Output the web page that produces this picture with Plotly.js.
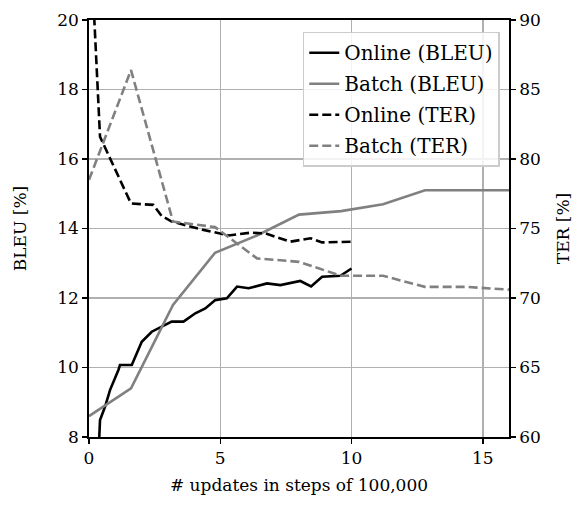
<!DOCTYPE html>
<html>
<head>
<meta charset="utf-8">
<script src="https://cdn.plot.ly/plotly-3.0.1.min.js"></script>
<style>html,body{margin:0;padding:0;background:#fff;}#chart{width:579px;height:505px;}</style>
</head>
<body>
<div id="chart"></div>
<script>
const onlineBleuX = [0.38, 0.42, 0.61, 0.8, 1.12, 1.18, 1.63, 2.01, 2.39, 2.77, 3.15, 3.6, 4.05, 4.43, 4.81, 5.25, 5.64, 6.08, 6.78, 7.29, 8.05, 8.46, 8.88, 9.58, 10.0];
const onlineBleu  = [7.8, 8.49, 8.87, 9.35, 9.93, 10.07, 10.07, 10.74, 11.03, 11.17, 11.32, 11.32, 11.56, 11.7, 11.94, 11.99, 12.33, 12.28, 12.42, 12.37, 12.49, 12.33, 12.61, 12.64, 12.85];

const batchX    = [0, 1.6, 3.2, 4.8, 6.4, 8.0, 9.6, 11.2, 12.8, 14.4, 16.0];
const batchBleu = [8.6, 9.4, 11.8, 13.3, 13.8, 14.4, 14.5, 14.7, 15.1, 15.1, 15.1];
const batchTer  = [78.5, 86.4, 75.5, 75.1, 72.85, 72.6, 71.6, 71.6, 70.8, 70.8, 70.6];

const onlineTerX = [0.1, 0.42, 1.6, 2.45, 2.77, 3.15, 4.36, 5.32, 6.15, 6.72, 7.67, 8.44, 8.88, 10.0];
const onlineTer  = [94, 81.6, 76.8, 76.7, 75.9, 75.5, 74.9, 74.5, 74.7, 74.65, 74.05, 74.3, 74.0, 74.05];

const seriesNames = ["Online (BLEU)", "Batch (BLEU)", "Online (TER)", "Batch (TER)"];

const BLACK = "#000000", GRAY = "#808080";
const DASH = "9px,4px";
const FONT = "DejaVu Serif, serif";

const traces = [
  {x: onlineBleuX, y: onlineBleu, name: seriesNames[0], legendgroup: "a", mode: "lines", line: {color: BLACK, width: 2.6}, yaxis: "y"},
  {x: batchX, y: batchBleu, name: seriesNames[1], legendgroup: "b", mode: "lines", line: {color: GRAY, width: 2.6}, yaxis: "y"},
  {x: onlineTerX, y: onlineTer, name: seriesNames[2], legendgroup: "c", mode: "lines", line: {color: BLACK, width: 2.6, dash: DASH}, yaxis: "y2"},
  {x: batchX, y: batchTer, name: seriesNames[3], legendgroup: "d", mode: "lines", line: {color: GRAY, width: 2.6, dash: DASH}, yaxis: "y2"}
];

const layout = {
  width: 579, height: 505,
  margin: {l: 89, r: 70, t: 20, b: 68},
  paper_bgcolor: "#fff", plot_bgcolor: "#fff",
  font: {family: FONT, size: 17, color: "#000"},
  showlegend: true,
  legend: {
    x: 0.978, y: 0.972, xanchor: "right", yanchor: "top",
    bgcolor: "rgba(255,255,255,0.85)", bordercolor: "#cccccc", borderwidth: 1.5,
    font: {family: FONT, size: 20, color: "#000"},
    traceorder: "grouped", tracegroupgap: 2
  },
  xaxis: {
    range: [0, 16], tickvals: [0, 5, 10, 15], ticktext: ["0", "5", "10", "15"],
    showgrid: true, gridcolor: "#b0b0b0", gridwidth: 1.5, zeroline: false,
    showline: true, linecolor: "#000", linewidth: 1.8, mirror: true,
    ticks: "outside", ticklen: 5, tickwidth: 1.5, tickcolor: "#000",
    tickfont: {family: FONT, size: 17},
    title: {text: "# updates in steps of 100,000", font: {family: FONT, size: 17}, standoff: 12}
  },
  yaxis: {
    range: [8, 20], tickvals: [8, 10, 12, 14, 16, 18, 20],
    showgrid: true, gridcolor: "#b0b0b0", gridwidth: 1.5, zeroline: false,
    showline: true, linecolor: "#000", linewidth: 1.8,
    ticks: "outside", ticklen: 5, tickwidth: 1.5, tickcolor: "#000",
    tickfont: {family: FONT, size: 17},
    title: {text: "BLEU [%]", font: {family: FONT, size: 17}, standoff: 26}
  },
  yaxis2: {
    range: [60, 90], tickvals: [60, 65, 70, 75, 80, 85, 90],
    overlaying: "y", side: "right", showgrid: false, zeroline: false,
    showline: true, linecolor: "#000", linewidth: 1.8,
    ticks: "outside", ticklen: 5, tickwidth: 1.5, tickcolor: "#000",
    tickfont: {family: FONT, size: 17},
    title: {text: "TER [%]", font: {family: FONT, size: 17}, standoff: 17}
  }
};

Plotly.newPlot("chart", traces, layout, {displayModeBar: false, staticPlot: true});
</script>
</body>
</html>
